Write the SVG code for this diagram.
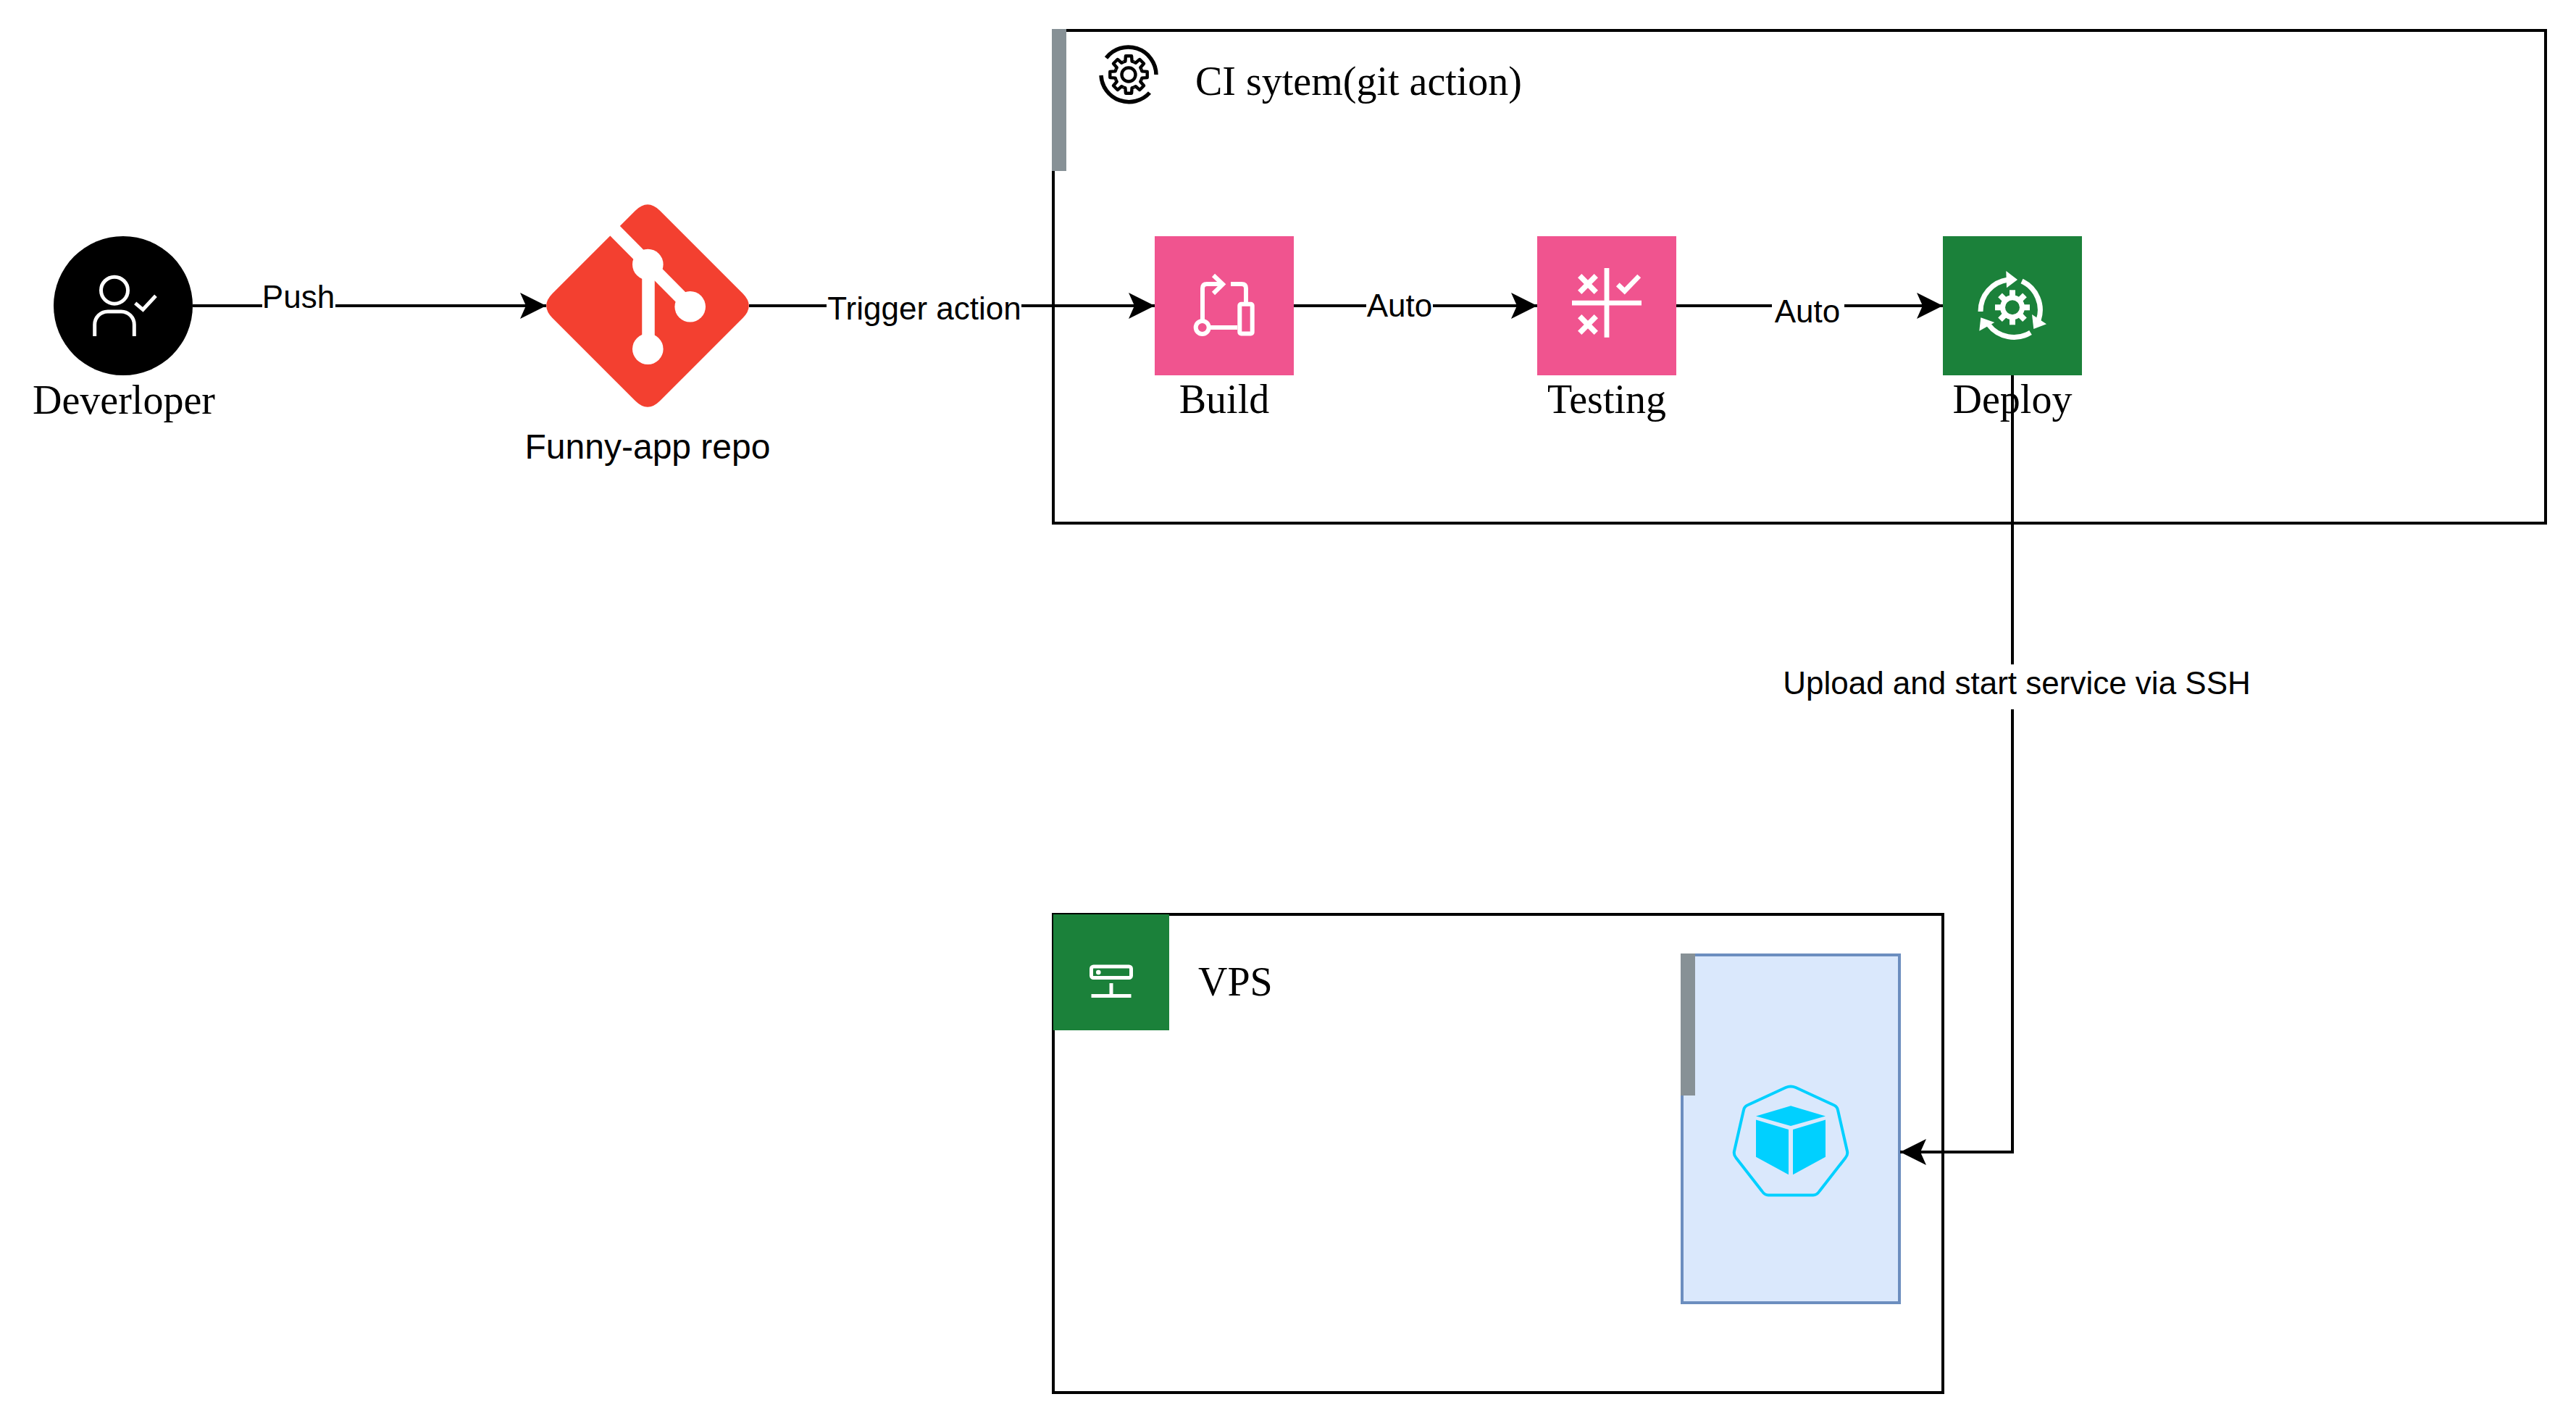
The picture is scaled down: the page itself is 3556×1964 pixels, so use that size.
<svg xmlns="http://www.w3.org/2000/svg" xmlns:xlink="http://www.w3.org/1999/xlink" width="3556" height="1964" viewBox="0 0 3556 1964">
<style>
.serif{font-family:"Liberation Serif","Times New Roman",serif;font-size:56px;fill:#000}
.sans{font-family:"Liberation Sans",Arial,sans-serif;fill:#000}
.mid{text-anchor:middle}
.edge{fill:none;stroke:#000;stroke-width:4}
.ws{fill:none;stroke:#fff;stroke-linejoin:miter}
.gray{fill:#879196}
</style>
<defs>
<marker id="arrow" markerUnits="userSpaceOnUse" markerWidth="38" markerHeight="38" refX="36" refY="18" orient="auto"><path d="M36 18L0 0L8 18L0 36Z" fill="#000"/></marker>
<path id="tooth" d="M-7.27 -17.55L-4.6 -18.4L-4.07 -25.7L4.07 -25.7L4.6 -18.4L7.27 -17.55" fill="none" stroke="#000" stroke-width="4.4" stroke-linejoin="round"/>
</defs>
<rect width="3556" height="1964" fill="#fff"/>

<g id="ci-system">
<rect x="1454" y="42" width="2060" height="680" fill="#fff" stroke="#000" stroke-width="4"/>
<rect class="gray" x="1452" y="40" width="20" height="196"/>
<g transform="translate(1558 103)">
<path d="M-31 -23A38.5 38.5 0 0 1 38 0" fill="none" stroke="#000" stroke-width="5.5"/>
<path d="M-38 1A38.5 38.5 0 0 0 29 25" fill="none" stroke="#000" stroke-width="5.5"/>
<use xlink:href="#tooth"/><use xlink:href="#tooth" transform="rotate(45)"/><use xlink:href="#tooth" transform="rotate(90)"/><use xlink:href="#tooth" transform="rotate(135)"/><use xlink:href="#tooth" transform="rotate(180)"/><use xlink:href="#tooth" transform="rotate(225)"/><use xlink:href="#tooth" transform="rotate(270)"/><use xlink:href="#tooth" transform="rotate(315)"/>
<circle r="9.5" fill="none" stroke="#000" stroke-width="4.4"/>
</g>
<text class="serif" x="1650" y="131">CI sytem(git action)</text>
</g>

<g id="vps">
<rect x="1454" y="1262" width="1228" height="660" fill="#fff" stroke="#000" stroke-width="4"/>
<rect x="1454" y="1262" width="160" height="160" fill="#1b813a"/>
<rect class="ws" x="1506.5" y="1334" width="55" height="15.5" rx="3" stroke-width="5"/>
<circle cx="1516.3" cy="1342" r="3.3" fill="#fff"/>
<path class="ws" d="M1534 1357V1374M1506.5 1374.5H1561.5" stroke-width="5"/>
<text class="serif" x="1654" y="1374">VPS</text>
</g>

<g id="container">
<rect x="2322" y="1318" width="300" height="480" fill="#dae8fc" stroke="#6c8ebf" stroke-width="4"/>
<rect class="gray" x="2320" y="1316" width="20" height="196"/>
<path d="M2465 1501Q2472 1498 2479 1501L2531 1525Q2536 1527 2537 1532L2550 1589Q2551 1594 2547.5 1598L2511.7 1644Q2508 1649.5 2503 1649.5H2441Q2436 1649.5 2432.3 1644L2396.5 1598Q2393 1594 2394 1589L2407 1532Q2408 1527 2413 1525Z" fill="none" stroke="#00d0ff" stroke-width="4"/>
<path d="M2424 1540.4L2472 1526.2L2520 1540.4L2472 1554.1Z M2424 1545.5L2469 1559V1621.3L2424 1596.8Z M2475 1559L2520 1545.5V1596.8L2475 1621.3Z" fill="#00d0ff"/>
</g>

<g id="connectors">
<path class="edge" d="M266 422H754" marker-end="url(#arrow)"/>
<path class="edge" d="M1034 422H1594" marker-end="url(#arrow)"/>
<path class="edge" d="M1786 422H2122" marker-end="url(#arrow)"/>
<path class="edge" d="M2314 422H2682" marker-end="url(#arrow)"/>
<path class="edge" d="M2778 518V1590H2623" marker-end="url(#arrow)"/>
<rect x="362" y="395" width="101" height="40" fill="#fff"/>
<text class="sans mid" x="412" y="425" font-size="44">Push</text>
<rect x="1141" y="400" width="269" height="48" fill="#fff"/>
<text class="sans mid" x="1276" y="441" font-size="44">Trigger action</text>
<rect x="1886" y="400" width="92" height="44" fill="#fff"/>
<text class="sans mid" x="1932" y="437" font-size="44">Auto</text>
<rect x="2446" y="404" width="100" height="44" fill="#fff"/>
<text class="sans mid" x="2495" y="445" font-size="44">Auto</text>
<rect x="2462" y="917" width="644" height="62" fill="#fff"/>
<text class="sans mid" x="2784" y="958" font-size="44">Upload and start service via SSH</text>
</g>

<g id="developer">
<circle cx="170" cy="422" r="96" fill="#000"/>
<circle class="ws" cx="158" cy="400.7" r="18.5" stroke-width="5"/>
<path class="ws" d="M130.7 464V448A18 18 0 0 1 148.7 430H167.3A18 18 0 0 1 185.3 448V464" stroke-width="5"/>
<path class="ws" d="M186.7 418.3L197.3 427.3L215 408.3" stroke-width="5"/>
<text class="serif mid" x="171" y="571">Deverloper</text>
</g>

<g id="git-repo">
<path d="M762.7 405L877 290.7Q894 273.7 911 290.7L1025.3 405Q1042.3 422 1025.3 439L911 553.3Q894 570.3 877 553.3L762.7 439Q745.7 422 762.7 405Z" fill="#f34030"/>
<path class="ws" d="M835 304.5L952.7 423.3" stroke-width="19"/>
<path class="ws" d="M895 365V481.7" stroke-width="17.5"/>
<circle cx="894.3" cy="365" r="21.3" fill="#fff"/>
<circle cx="952.7" cy="423.3" r="21.3" fill="#fff"/>
<circle cx="894.3" cy="481.7" r="21.3" fill="#fff"/>
<text class="sans mid" x="894" y="633" font-size="48">Funny-app repo</text>
</g>

<g id="build">
<rect x="1594" y="326" width="192" height="192" fill="#f0548f"/>
<circle class="ws" cx="1659.7" cy="452" r="9" stroke-width="6"/>
<path class="ws" d="M1660 441V398Q1660 392 1666 392H1688M1675 380L1688 392.3L1675 405M1699 392H1714Q1720 392 1720 398V417M1670 452H1708" stroke-width="6"/>
<rect class="ws" x="1711.3" y="419.7" width="17.4" height="40.7" rx="2" stroke-width="6"/>
<text class="serif mid" x="1690" y="570">Build</text>
</g>

<g id="testing">
<rect x="2122" y="326" width="192" height="192" fill="#f0548f"/>
<path class="ws" d="M2218 370V465.7M2170 418.2H2266" stroke-width="6.8"/>
<path class="ws" d="M2180.7 380.7L2203.3 403.3M2203.3 380.7L2180.7 403.3M2180.7 436.7L2203.3 459.3M2203.3 436.7L2180.7 459.3" stroke-width="7.5"/>
<path class="ws" d="M2233.3 392.7L2242.7 401.7L2262.7 381" stroke-width="6.8"/>
<text class="serif mid" x="2218" y="570">Testing</text>
</g>

<g id="deploy">
<rect x="2682" y="326" width="192" height="192" fill="#1b813a"/>
<g transform="translate(2778 424.3)" fill="#fff">
<circle r="13.5" fill="none" stroke="#fff" stroke-width="7"/>
<rect x="-4" y="-24" width="8" height="10"/><rect x="-4" y="-24" width="8" height="10" transform="rotate(45)"/><rect x="-4" y="-24" width="8" height="10" transform="rotate(90)"/><rect x="-4" y="-24" width="8" height="10" transform="rotate(135)"/><rect x="-4" y="-24" width="8" height="10" transform="rotate(180)"/><rect x="-4" y="-24" width="8" height="10" transform="rotate(225)"/><rect x="-4" y="-24" width="8" height="10" transform="rotate(270)"/><rect x="-4" y="-24" width="8" height="10" transform="rotate(315)"/>
</g>
<path class="ws" d="M2734 430A44 44 0 0 1 2772 386" stroke-width="7"/>
<path d="M2769.3 374L2785 386L2770 397.3Z" fill="#fff"/>
<path class="ws" d="M2791 388A44 44 0 0 1 2814 442" stroke-width="7"/>
<path d="M2825 447.3L2807.3 454L2805 434Z" fill="#fff"/>
<path class="ws" d="M2803 459A44 44 0 0 1 2745 448" stroke-width="7"/>
<path d="M2734.3 438.3L2753.3 445L2732.3 456.7Z" fill="#fff"/>
<text class="serif mid" x="2778" y="570">Deploy</text>
</g>
</svg>
